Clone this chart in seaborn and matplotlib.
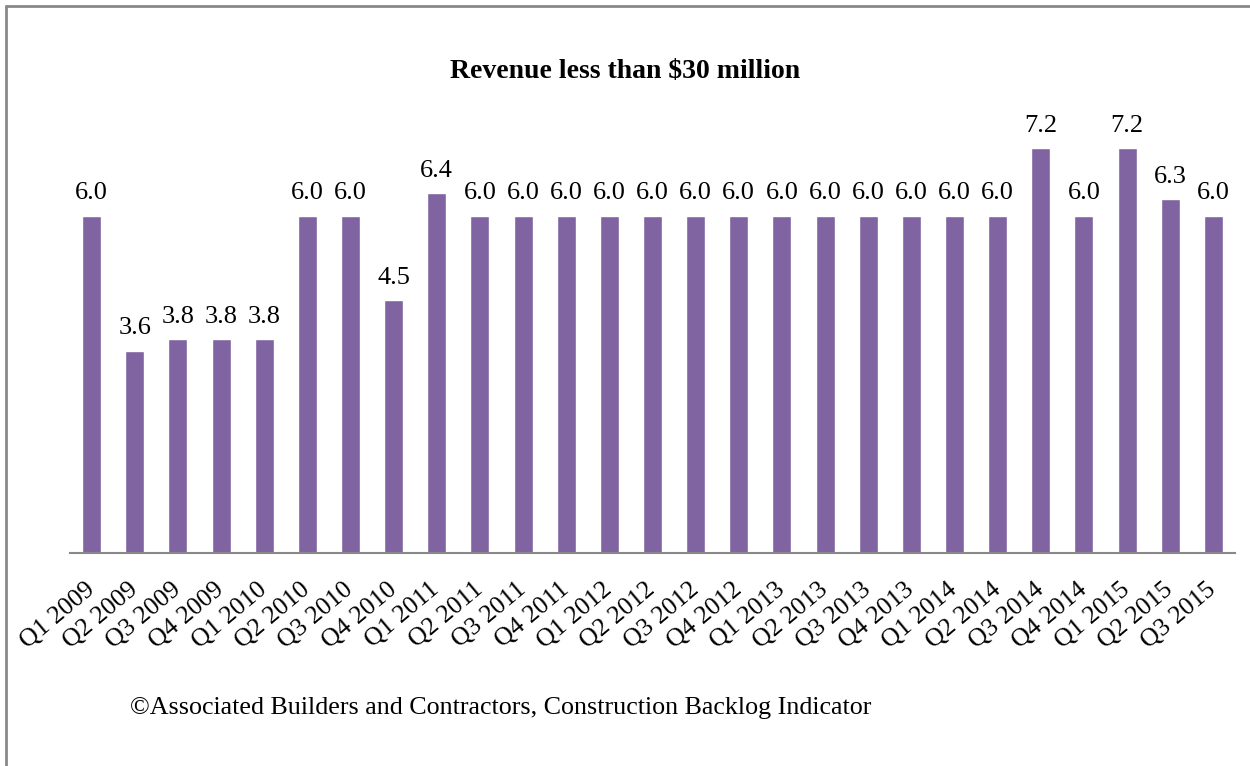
import matplotlib
matplotlib.use("Agg")
import matplotlib.pyplot as plt
import matplotlib.transforms as mtransforms
import seaborn as sns
import pandas as pd
from matplotlib.lines import Line2D

quarters = ["Q1 2009", "Q2 2009", "Q3 2009", "Q4 2009", "Q1 2010", "Q2 2010", "Q3 2010",
            "Q4 2010", "Q1 2011", "Q2 2011", "Q3 2011", "Q4 2011", "Q1 2012", "Q2 2012",
            "Q3 2012", "Q4 2012", "Q1 2013", "Q2 2013", "Q3 2013", "Q4 2013", "Q1 2014",
            "Q2 2014", "Q3 2014", "Q4 2014", "Q1 2015", "Q2 2015", "Q3 2015"]
values = [6.0, 3.6, 3.8, 3.8, 3.8, 6.0, 6.0, 4.5, 6.4, 6.0, 6.0, 6.0, 6.0, 6.0,
          6.0, 6.0, 6.0, 6.0, 6.0, 6.0, 6.0, 6.0, 7.2, 6.0, 7.2, 6.3, 6.0]
title = "Revenue less than $30 million"
footer = "\u00a9Associated Builders and Contractors, Construction Backlog Indicator"

sns.set_theme(style="white")
plt.rcParams['font.family'] = ['Liberation Serif', 'DejaVu Serif']
plt.rcParams['text.color'] = 'black'
plt.rcParams['xtick.color'] = 'black'

df = pd.DataFrame({"quarter": quarters, "value": values})

fig = plt.figure(figsize=(12.5, 7.66), dpi=100)
W, H = 1250, 766
left, right = 70 / W, 1235 / W
bottom = 1 - 553 / H
top = 1 - 103 / H
ax = fig.add_axes([left, bottom, right - left, top - bottom])

sns.barplot(data=df, x="quarter", y="value", color="#8064A2", saturation=1,
            width=0.44, ax=ax)
ax.set_xlim(-0.5, len(quarters) - 0.5)
ax.set_ylim(0, 8)
ax.set_xlabel("")
ax.set_ylabel("")
ax.set_yticks([])
for s in ["top", "right", "left"]:
    ax.spines[s].set_visible(False)
ax.spines["bottom"].set_color("#898989")
ax.spines["bottom"].set_linewidth(1.5)
ax.tick_params(axis="x", length=0, pad=4)
ax.set_xticks(range(len(quarters)))
ax.set_xticklabels(quarters, rotation=40, ha="right", va="center",
                   rotation_mode="anchor", fontsize=18.5)
offset = mtransforms.ScaledTranslation(0 / 100, -28 / 100, fig.dpi_scale_trans)
for lab in ax.get_xticklabels():
    lab.set_transform(lab.get_transform() + offset)

for i, v in enumerate(values):
    ax.annotate(f"{v:.1f}", (i, v), xytext=(0, 8), textcoords="offset points",
                ha="center", va="bottom", fontsize=19)

fig.text(0.5, 1 - 72 / H, title, ha="center", va="center", fontsize=20,
         fontweight="bold")
fig.text(130 / W, 1 - 708 / H, footer, ha="left", va="center", fontsize=18.7)

# chart frame (left and top border)
fig.add_artist(Line2D([5.5 / W, 5.5 / W], [0, 1 - 5.5 / H], transform=fig.transFigure,
                      color="#898989", lw=2))
fig.add_artist(Line2D([5.5 / W, 1], [1 - 5.5 / H, 1 - 5.5 / H], transform=fig.transFigure,
                      color="#898989", lw=2))

fig.savefig("out.png", dpi=100)
